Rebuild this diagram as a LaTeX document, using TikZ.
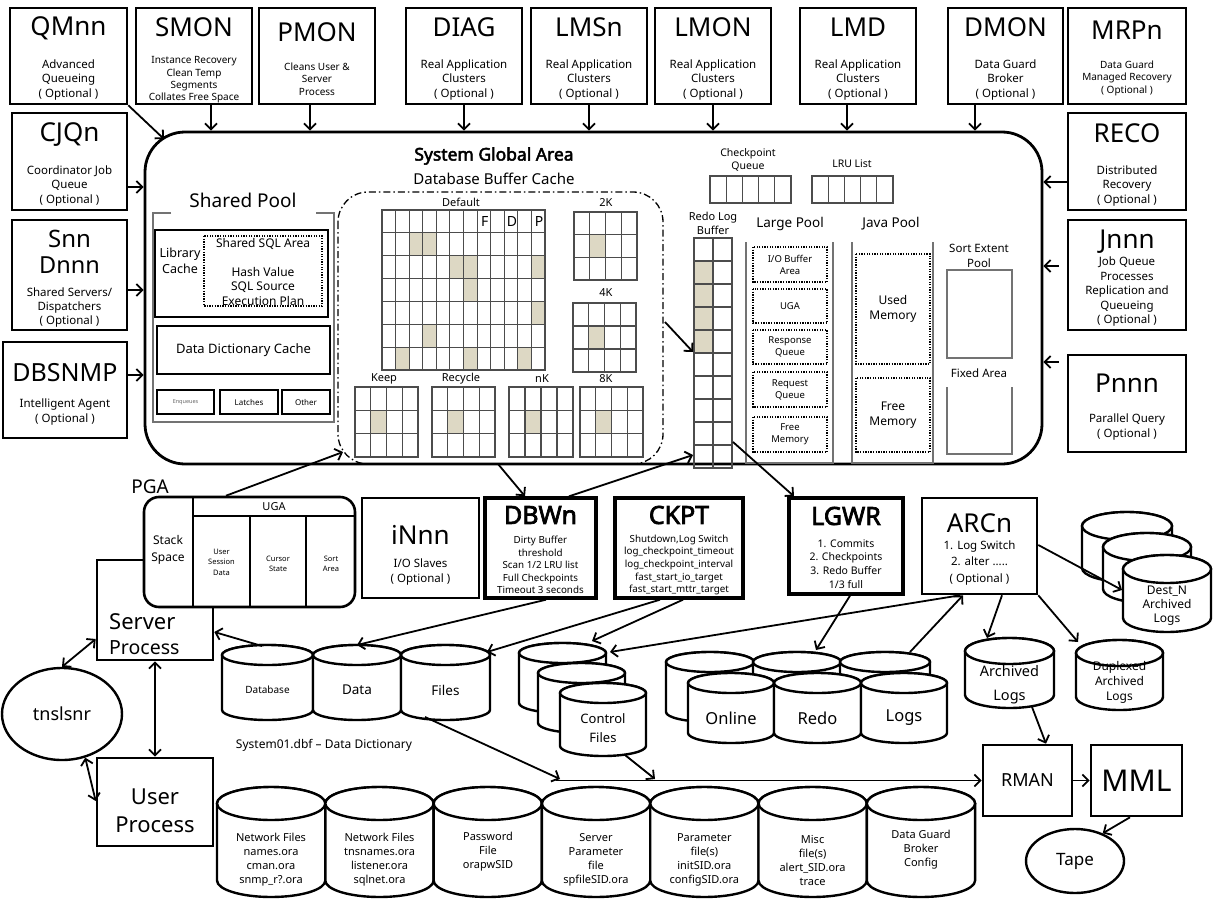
\documentclass[tikz,border=0pt]{standalone}
\usepackage{fontspec}
\setmainfont{Noto Sans}[BoldFont={Noto Sans},BoldFeatures={FakeBold=2.8}]
\usetikzlibrary{arrows.meta,shapes.geometric}
\definecolor{hitc}{RGB}{221,216,196}

\newcommand\pnode[6][pbox]{\node[#1,minimum width={#5-#3},minimum height={#6-#4}] (#2) at ({(#3+#5)/2},{-(#4+#6)/2}) {};}

\newcommand\hitcells[7]{%
 \pgfmathsetmacro\gw{(#3-#1)/#5}\pgfmathsetmacro\gh{(#4-#2)/#6}%
 \foreach \ci/\ri in {#7} {\fill[hitc] ({#1+\ci*\gw},{-(#2+\ri*\gh)}) rectangle ({#1+(\ci+1)*\gw},{-(#2+(\ri+1)*\gh)});}%
}
\newcommand\cgrid[6]{%
 \pgfmathsetmacro\gw{(#3-#1)/#5}\pgfmathsetmacro\gh{(#4-#2)/#6}%
 \pgfmathtruncatemacro\gc{#5-1}\pgfmathtruncatemacro\gr{#6-1}%
 \foreach \ci in {1,...,\gc} {\draw[gline] ({#1+\ci*\gw},-#2) -- ({#1+\ci*\gw},-#4);}%
 \ifnum#6>1 \foreach \ri in {1,...,\gr} {\draw[gline] (#1,{-(#2+\ri*\gh)}) -- (#3,{-(#2+\ri*\gh)});}\fi
 \draw[gline] (#1,-#2) rectangle (#3,-#4);
}
\newcommand\drum[6]{% name L T W H ry
 \pgfmathsetmacro\dR{#2+#4}\pgfmathsetmacro\drx{#4/2}\pgfmathsetmacro\dcx{#2+#4/2}%
 \pgfmathsetmacro\dyt{-(#3+#6)}\pgfmathsetmacro\dyb{-(#3+#5-#6)}%
 \draw[cylline] (#2,\dyt) -- (#2,\dyb) arc[start angle=180,end angle=360,x radius=\drx,y radius=#6] -- (\dR,\dyt) arc[start angle=0,end angle=180,x radius=\drx,y radius=#6] -- cycle;
 \draw[cylline] (\dcx,\dyt) ellipse[x radius=\drx,y radius=#6];
 \coordinate (#1) at (\dcx,{-(#3+#5/2)});
 \coordinate (#1-top) at (\dcx,-#3);
}

\begin{document}
\begin{tikzpicture}[x=1pt,y=1pt,
 every node/.style={inner sep=0pt,align=center},
 pbox/.style={draw,line width=2.6pt,fill=white},
 pboxb/.style={draw,line width=3.4pt,fill=white},
 arr/.style={line width=1.8pt,-{Straight Barb[length=6pt,width=12pt]}},
 darr/.style={line width=1.8pt,{Straight Barb[length=6pt,width=12pt]}-{Straight Barb[length=6pt,width=12pt]}},
 gline/.style={draw=black!70,line width=1.1pt},
 gframe/.style={draw=black!55,line width=1.2pt},
 ibox/.style={draw,line width=1.6pt},
 dotbox/.style={draw,line width=1.3pt,dash pattern=on 1.3pt off 1.3pt},
 bcline/.style={draw,line width=1.3pt,dash pattern=on 7pt off 3pt on 1.5pt off 3pt,rounded corners=30pt},
 cylline/.style={draw,line width=2.4pt,fill=white},
 tBig/.style={font=\fontsize{26}{28}\selectfont},
 tBold/.style={font=\bfseries\fontsize{25}{27}\selectfont},
 tSub/.style={font=\fontsize{11.5}{14.5}\selectfont},
 tSm/.style={font=\fontsize{10}{12.4}\selectfont},
 tMid/.style={font=\fontsize{9.8}{12.6}\selectfont},
 tCyl/.style={font=\fontsize{11}{14}\selectfont}
]
\useasboundingbox (0,0) rectangle (1213,-899);
\fill[white] (0,0) rectangle (1213,-899);

% ---------------- SGA frame
\node[draw,line width=2.8pt,rounded corners=40pt,minimum width=897,minimum height=332] (sga) at (593.5,-298) {};
\coordinate (sgaNW) at (164,-139);

% ---------------- top row
\pnode{qmnn}{10}{8}{127}{104}
\pnode{smon}{136}{8}{252}{104}
\pnode{pmon}{259}{8}{375}{104}
\pnode{diag}{406}{8}{522}{104}
\pnode{lmsn}{531}{8}{647}{104}
\pnode{lmon}{655}{8}{771}{104}
\pnode{lmd}{800}{8}{916}{104}
\pnode{dmon}{948}{8}{1063}{104}
\pnode{mrpn}{1068}{8}{1186}{104}
\node[tBig] (qmnn-t) at (68.5,-28) {QMnn};
\node[tSub] (qmnn-s) at (68.5,-80) {Advanced\\Queueing\\( Optional )};
\node[tBig] (smon-t) at (194,-27) {SMON};
\node[tSm] (smon-s) at (194,-80) {Instance Recovery\\Clean Temp\\Segments\\Collates Free Space};
\node[tBig] (pmon-t) at (317,-32) {PMON};
\node[tSm] (pmon-s) at (317,-79) {Cleans User \&\\Server\\Process};
\node[tBig] (diag-t) at (464,-27) {DIAG};
\node[tSub] (diag-s) at (464,-80) {Real Application\\Clusters\\( Optional )};
\node[tBig] (lmsn-t) at (589,-27) {LMSn};
\node[tSub] (lmsn-s) at (589,-80) {Real Application\\Clusters\\( Optional )};
\node[tBig] (lmon-t) at (713,-27) {LMON};
\node[tSub] (lmon-s) at (713,-80) {Real Application\\Clusters\\( Optional )};
\node[tBig] (lmd-t) at (858,-27) {LMD};
\node[tSub] (lmd-s) at (858,-80) {Real Application\\Clusters\\( Optional )};
\node[tBig] (dmon-t) at (1005.5,-27) {DMON};
\node[tSub] (dmon-s) at (1005.5,-80) {Data Guard\\Broker\\( Optional )};
\node[tBig] (mrpn-t) at (1127,-30) {MRPn};
\node[tSm] (mrpn-s) at (1127,-78) {Data Guard\\Managed Recovery\\( Optional )};

\draw[arr] (qmnn.south east) -- (sgaNW);
\draw[arr] (smon.south -| 211,0) -- (sga.north -| 211,0);
\draw[arr] (pmon.south -| 310,0) -- (sga.north -| 310,0);
\draw[arr] (diag.south) -- (sga.north -| diag.south);
\draw[arr] (lmsn.south) -- (sga.north -| lmsn.south);
\draw[arr] (lmon.south) -- (sga.north -| lmon.south);
\draw[arr] (lmd.south -| 847,0) -- (sga.north -| 847,0);
\draw[arr] (dmon.south -| 975,0) -- (sga.north -| 975,0);

% ---------------- left column
\pnode{cjqn}{12}{113}{127}{210}
\pnode{snn}{12}{220}{127}{330}
\pnode{dbsnmp}{3}{342}{127}{438}
\node[tBig] (cjqn-t) at (69.5,-135) {CJQn};
\node[tSub] (cjqn-s) at (69.5,-186) {Coordinator Job\\Queue\\( Optional )};
\node[font=\fontsize{24}{26}\selectfont] (snn-t) at (69.5,-239) {Snn};
\node[font=\fontsize{23.5}{26}\selectfont] (snn-u) at (69.5,-265) {Dnnn};
\node[font=\fontsize{11.5}{14}\selectfont] (snn-s) at (69.5,-308) {Shared Servers/\\Dispatchers\\( Optional )};
\node[font=\fontsize{25}{27}\selectfont] (dbsnmp-t) at (65,-373) {DBSNMP};
\node[tSub] (dbsnmp-s) at (65,-412) {Intelligent Agent\\( Optional )};
\draw[arr] (cjqn.east |- 0,-187) -- (sga.west |- 0,-187);
\draw[arr] (snn.east |- 0,-290) -- (sga.west |- 0,-290);
\draw[arr] (dbsnmp.east |- 0,-375) -- (sga.west |- 0,-375);

% ---------------- right column
\pnode{reco}{1068}{113}{1186}{210}
\pnode{jnnn}{1068}{220}{1186}{330}
\pnode{pnnn}{1068}{355}{1186}{452}
\node[tBig] (reco-t) at (1127,-133) {RECO};
\node[tSub] (reco-s) at (1127,-186) {Distributed\\Recovery\\( Optional )};
\node[tBig] (jnnn-t) at (1127,-242) {Jnnn};
\node[tSub] (jnnn-s) at (1127,-292) {Job Queue\\Processes\\Replication and\\Queueing\\( Optional )};
\node[tBig] (pnnn-t) at (1127,-383) {Pnnn};
\node[tSub] (pnnn-s) at (1127,-427) {Parallel Query\\( Optional )};
\draw[arr] (reco.west |- 0,-182) -- (sga.east |- 0,-182);
\draw[arr,shorten <=8pt] (jnnn.west |- 0,-266) -- (sga.east |- 0,-266);
\draw[arr,shorten <=8pt] (pnnn.west |- 0,-362) -- (sga.east |- 0,-362);

% ---------------- SGA titles
\node[font=\bfseries\fontsize{17.5}{20}\selectfont] (sgat) at (494,-156) {System Global Area};
\node[font=\fontsize{15}{17}\selectfont] (dbbc) at (494,-179) {Database Buffer Cache};

% ---------------- Shared pool
\node[font=\fontsize{19}{21}\selectfont] (spt) at (243,-200) {Shared Pool};
\draw[gframe] (171,-213) -| (153,-422) -| (334,-213) -- (316,-213);
\draw[ibox] (155,-230) rectangle (328,-317);
\node[font=\fontsize{12.5}{15.5}\selectfont] (libc) at (180,-261) {Library\\Cache};
\draw[dotbox] (204,-236) rectangle (322,-306);
\node[font=\fontsize{12}{14.5}\selectfont] (ssql) at (263,-244) {Shared SQL Area};
\node[font=\fontsize{12}{14.5}\selectfont] (hashv) at (263,-286) {Hash Value\\SQL Source\\Execution Plan};
\draw[ibox] (157,-326) rectangle (330,-374);
\node[font=\fontsize{13}{15}\selectfont] (ddc) at (243.5,-350) {Data Dictionary Cache};
\draw[ibox] (157,-390) rectangle (214,-414);
\draw[ibox] (220,-390) rectangle (278,-414);
\draw[ibox] (282,-390) rectangle (330,-414);
\node[font=\fontsize{5.5}{6}\selectfont,text=black!60] (enq) at (185.5,-402) {Enqueues};
\node[font=\fontsize{8}{9}\selectfont] (latch) at (249,-402) {Latches};
\node[font=\fontsize{8}{9}\selectfont] (other) at (306,-402) {Other};

% ---------------- Buffer cache
\draw[bcline] (338,-192) rectangle (663,-464);
\hitcells{382}{210}{545}{370}{12}{7}{2/1,3/1,5/2,6/2,11/2,6/3,11/4,3/5,1/6,6/6,10/6}
\cgrid{382}{210}{545}{370}{12}{7}
\node[font=\fontsize{11}{12}\selectfont] (lbdef) at (461,-202) {Default};
\node[font=\fontsize{14}{15}\selectfont] (lbF) at (484.7,-221.5) {F};
\node[font=\fontsize{14}{15}\selectfont] (lbD) at (511.9,-221.5) {D};
\node[font=\fontsize{14}{15}\selectfont] (lbP) at (539,-221.5) {P};
\hitcells{574}{212}{637}{280}{4}{3}{1/1}
\cgrid{574}{212}{637}{280}{4}{3}
\node[font=\fontsize{11}{12}\selectfont] (lb2k) at (606,-203) {2K};
\hitcells{573}{303}{636}{372}{4}{3}{1/1}
\cgrid{573}{303}{636}{372}{4}{3}
\node[font=\fontsize{11}{12}\selectfont] (lb4k) at (606,-293) {4K};
\hitcells{355}{387}{418}{457}{4}{3}{1/1}
\cgrid{355}{387}{418}{457}{4}{3}
\node[font=\fontsize{11}{12}\selectfont] (lbkeep) at (384,-379) {Keep};
\hitcells{432}{387}{495}{457}{4}{3}{1/1}
\cgrid{432}{387}{495}{457}{4}{3}
\node[font=\fontsize{11}{12}\selectfont] (lbrec) at (461,-379) {Recycle};
\hitcells{509}{387}{573}{457}{4}{3}{1/1}
\cgrid{509}{387}{573}{457}{4}{3}
\node[font=\fontsize{11}{12}\selectfont] (lbnk) at (542,-379) {nK};
\hitcells{580}{387}{643}{457}{4}{3}{1/1}
\cgrid{580}{387}{643}{457}{4}{3}
\node[font=\fontsize{11}{12}\selectfont] (lb8k) at (606,-379) {8K};

% ---------------- queues
\node[font=\fontsize{10.5}{13.5}\selectfont] (ckq) at (748,-160) {Checkpoint\\Queue};
\cgrid{710}{176}{791}{203}{5}{1}
\node[font=\fontsize{10.5}{13.5}\selectfont] (lru) at (852,-164) {LRU List};
\cgrid{812}{176}{893}{203}{5}{1}

% ---------------- Redo log buffer
\node[font=\fontsize{11}{14}\selectfont] (rlb) at (713,-223) {Redo Log\\Buffer};
\hitcells{694}{238}{732}{468}{2}{10}{0/1,0/2,0/3,0/4}
\cgrid{694}{238}{732}{468}{2}{10}

% ---------------- Large pool
\node[font=\fontsize{13.5}{15}\selectfont] (lpt) at (790,-224) {Large Pool};
\draw[gframe] (746,-242) -- (746,-463) -- (833,-463) -- (833,-242);
\draw[dotbox] (753,-247) rectangle (827,-282);
\draw[dotbox] (753,-289) rectangle (827,-323);
\draw[dotbox] (753,-330) rectangle (827,-364);
\draw[dotbox] (753,-372) rectangle (827,-407);
\draw[dotbox] (753,-417) rectangle (827,-452);
\node[font=\fontsize{9.5}{12}\selectfont] (lp1) at (790,-264.5) {I/O Buffer\\Area};
\node[font=\fontsize{9.5}{12}\selectfont] (lp2) at (790,-306) {UGA};
\node[font=\fontsize{9.5}{12}\selectfont] (lp3) at (790,-347) {Response\\Queue};
\node[font=\fontsize{9.5}{12}\selectfont] (lp4) at (790,-389.5) {Request\\Queue};
\node[font=\fontsize{9.5}{12}\selectfont] (lp5) at (790,-434.5) {Free\\Memory};

% ---------------- Java pool
\node[font=\fontsize{13.5}{15}\selectfont] (jpt) at (891,-224) {Java Pool};
\draw[gframe] (852,-242) -- (852,-463) -- (933,-463) -- (933,-242);
\draw[dotbox] (856,-254) rectangle (930,-364);
\draw[dotbox] (856,-378) rectangle (930,-452);
\node[font=\fontsize{12}{14.5}\selectfont] (jp1) at (893,-309) {Used\\Memory};
\node[font=\fontsize{12}{14.5}\selectfont] (jp2) at (893,-415) {Free\\Memory};

% ---------------- Sort extent / fixed
\node[font=\fontsize{11.5}{14.5}\selectfont] (sep) at (979,-256) {Sort Extent\\Pool};
\draw[gframe] (947,-270) rectangle (1012,-358);
\node[font=\fontsize{11.5}{14}\selectfont] (fxa) at (979,-373) {Fixed Area};
\draw[gframe] (947,-387) -- (947,-454) -- (1012,-454) -- (1012,-387);

% ---------------- Server process and PGA
\pnode{srv}{97}{560}{213}{660}
\node[anchor=west,font=\fontsize{22}{24}\selectfont] (srv-a) at (109,-622) {Server};
\node[anchor=west,font=\fontsize{19.5}{22}\selectfont] (srv-b) at (109,-648) {Process};
\node[pbox,rounded corners=15pt,minimum width=211,minimum height=110] (pga) at (249.5,-552) {};
\node[font=\fontsize{19}{21}\selectfont] (pgat) at (150,-487) {PGA};
\draw[ibox] (193,-497) -- (193,-607);
\draw[ibox] (193,-516) -- (355,-516);
\draw[ibox] (250,-516) -- (250,-607);
\draw[ibox] (306,-516) -- (306,-607);
\node[font=\fontsize{12}{16.5}\selectfont] (stk) at (168,-550) {Stack\\Space};
\node[font=\fontsize{11}{12}\selectfont] (ugat) at (274,-507) {UGA};
\node[font=\fontsize{7.5}{10.5}\selectfont] (usd) at (221.5,-562) {User\\Session\\Data};
\node[font=\fontsize{7.5}{10.5}\selectfont] (cst) at (278,-564) {Cursor\\State};
\node[font=\fontsize{7.5}{10.5}\selectfont] (sar) at (331,-564) {Sort\\Area};

% ---------------- middle processes
\pnode{innn}{362}{498}{479}{598}
\pnode[pboxb]{dbwn}{485}{498}{596}{598}
\pnode[pboxb]{ckpt}{615}{498}{743}{598}
\pnode[pboxb]{lgwr}{789}{498}{903}{594}
\pnode{arcn}{922}{498}{1037}{594}
\node[tBig] (innn-t) at (420.5,-535) {iNnn};
\node[font=\fontsize{11.5}{15}\selectfont] (innn-s) at (420.5,-572) {I/O Slaves\\( Optional )};
\node[tBold] (dbwn-t) at (540.5,-515) {DBWn};
\node[tMid] (dbwn-s) at (540.5,-565) {Dirty Buffer\\threshold\\Scan 1/2 LRU list\\Full Checkpoints\\Timeout 3 seconds};
\node[tBold] (ckpt-t) at (679,-515) {CKPT};
\node[tMid] (ckpt-s) at (679,-565) {Shutdown,Log Switch\\log\_checkpoint\_timeout\\log\_checkpoint\_interval\\fast\_start\_io\_target\\fast\_start\_mttr\_target};
\node[tBold] (lgwr-t) at (846,-516) {LGWR};
\node[font=\fontsize{10.5}{13.7}\selectfont] (lgwr-s) at (846,-564) {1. Commits\\2. Checkpoints\\3. Redo Buffer\\1/3 full};
\node[tBig] (arcn-t) at (979.5,-523) {ARCn};
\node[font=\fontsize{11.5}{16.5}\selectfont] (arcn-s) at (979.5,-563) {1. Log Switch\\2. alter .....\\( Optional )};

% ---------------- SGA <-> processes
\coordinate (bcIn) at (343,-452);
\coordinate (bcOut) at (498,-464);
\coordinate (rlbA) at (693,-455);
\coordinate (bcR) at (665,-322);
\coordinate (rlbB) at (693,-352);
\coordinate (rlbC) at (733,-442);
\draw[arr] (pga.north -| 226,0) -- (bcIn);
\draw[arr] (bcOut) -- (dbwn.north -| 525,0);
\draw[arr] (dbwn.north -| 569,0) -- (rlbA);
\draw[arr] (bcR) -- (rlbB);
\draw[arr] (rlbC) -- (lgwr.north -| 794,0);

% ---------------- tnslsnr, user process
\node[draw,ellipse,line width=2.4pt,minimum width=120,minimum height=92,font=\fontsize{18}{20}\selectfont] (tns) at (62,-714) {tnslsnr};
\pnode{usr}{97}{758}{213}{846}
\node[font=\fontsize{22}{28}\selectfont] (usr-t) at (155,-811) {User\\Process};
\draw[darr] (srv.west |- 0,-639) -- (tns.north);
\draw[darr] (srv.south) -- (usr.north);
\draw[darr] (tns.-62) -- (usr.west |- 0,-801);

% ---------------- data files
\drum{dbase}{222}{645}{91}{75}{10}
\drum{data}{313}{645}{88}{75}{10}
\drum{files}{401}{645}{89}{75}{10}
\node[font=\fontsize{10}{12}\selectfont] (dbase-l) at (267.5,-690) {Database};
\node[font=\fontsize{13.5}{15}\selectfont] (data-l) at (357,-690) {Data};
\node[font=\fontsize{13.5}{15}\selectfont] (files-l) at (445.5,-690) {Files};
\node[font=\fontsize{12}{14}\selectfont] (sysdbf) at (324,-745) {System01.dbf -- Data Dictionary};

% ---------------- control files
\drum{ctl1}{519}{643}{87}{70}{10}
\drum{ctl2}{538}{663}{87}{70}{10}
\drum{ctl3}{560}{683}{86}{73}{10}
\node[font=\fontsize{13}{19}\selectfont] (ctl-l) at (603,-728) {Control\\Files};

% ---------------- online redo logs
\drum{rb1}{666}{652}{88}{70}{10}
\drum{rb2}{753}{652}{88}{70}{10}
\drum{rb3}{840}{652}{90}{70}{10}
\drum{rf1}{688}{673}{86}{70}{10}
\drum{rf2}{774}{673}{87}{70}{10}
\drum{rf3}{861}{673}{86}{70}{10}
\node[font=\fontsize{16.5}{18}\selectfont] (rf1-l) at (731,-718) {Online};
\node[font=\fontsize{16.5}{18}\selectfont] (rf2-l) at (817.5,-718) {Redo};
\node[font=\fontsize{16.5}{18}\selectfont] (rf3-l) at (904,-718) {Logs};

% ---------------- archive destinations
\drum{dn1}{1082}{512}{90}{70}{14}
\drum{dn2}{1103}{533}{88}{70}{14}
\drum{dn3}{1123}{555}{88}{77}{14}
\node[font=\fontsize{12}{14}\selectfont] (dn-l) at (1167,-606) {Dest\_N\\Archived\\Logs};
\drum{arch}{965}{638}{89}{70}{13}
\node[font=\fontsize{14.5}{24}\selectfont] (arch-l) at (1009.5,-685) {Archived\\Logs};
\drum{dup}{1076}{640}{87}{70}{13}
\node[font=\fontsize{12}{15}\selectfont] (dup-l) at (1119.5,-682) {Duplexed\\Archived\\Logs};

% ---------------- RMAN, MML, tape
\pnode{rman}{983}{745}{1072}{816}
\pnode{mml}{1091}{745}{1182}{816}
\node[font=\fontsize{18}{20}\selectfont] (rman-t) at (1027.5,-780.5) {RMAN};
\node[font=\fontsize{30}{32}\selectfont] (mml-t) at (1136.5,-780.5) {MML};
\node[draw,ellipse,line width=2.4pt,minimum width=98,minimum height=64,font=\fontsize{17}{19}\selectfont] (tape) at (1075,-861) {Tape};

% ---------------- bottom config files
\drum{nf1}{217}{787}{108.3}{110}{16.5}
\drum{nf2}{325.3}{787}{108.3}{110}{16.5}
\drum{pw}{433.6}{787}{108.3}{110}{16.5}
\drum{sp}{541.9}{787}{108.3}{110}{16.5}
\drum{pf}{650.2}{787}{108.3}{110}{16.5}
\drum{misc}{758.5}{787}{108.3}{110}{16.5}
\drum{dg}{866.8}{787}{108.3}{110}{16.5}
\node[tCyl] (nf1-l) at (271,-860) {Network Files\\names.ora\\cman.ora\\snmp\_r?.ora};
\node[tCyl] (nf2-l) at (379.5,-860) {Network Files\\tnsnames.ora\\listener.ora\\sqlnet.ora};
\node[tCyl] (pw-l) at (488,-852) {Password\\File\\orapwSID};
\node[tCyl] (sp-l) at (596,-860) {Server\\Parameter\\file\\spfileSID.ora};
\node[tCyl] (pf-l) at (704.3,-860) {Parameter\\file(s)\\initSID.ora\\configSID.ora};
\node[tCyl] (misc-l) at (812.6,-860) {Misc\\file(s)\\alert\_SID.ora\\trace};
\node[tCyl] (dg-l) at (921,-850) {Data Guard\\Broker\\Config};

% ---------------- file connectors
\coordinate (dbOut) at (262,-646);
\coordinate (filesIn) at (487,-652);
\coordinate (ctlIn) at (592,-641);
\coordinate (ctlIn2) at (610,-652);
\coordinate (redoIn) at (816,-650);
\coordinate (logsOut) at (910,-652);
\coordinate (destIn) at (1122,-590);
\coordinate (archIn) at (987,-638);
\coordinate (dupIn) at (1078,-642);
\coordinate (archOut) at (1032,-707);
\coordinate (filesOut) at (425,-717);
\coordinate (busA) at (560,-779);
\coordinate (busB) at (556,-780.5);
\coordinate (ctlOut) at (625,-755);
\coordinate (busC) at (655,-779);
\draw[arr] (dbOut) -- (srv.east |- 0,-632);
\draw[arr] (dbwn.south -| 546,0) -- (data-top);
\draw[arr] (ckpt.south -| 660,0) -- (filesIn);
\draw[arr] (ckpt.south -| 683,0) -- (ctlIn);
\draw[arr] (arcn.south -| 960,0) -- (ctlIn2);
\draw[arr] (lgwr.south -| 850,0) -- (redoIn);
\draw[arr] (logsOut) -- (arcn.south -| 963,0);
\draw[arr] (arcn.east |- 0,-545) -- (destIn);
\draw[arr] (arcn.south -| 1002,0) -- (archIn);
\draw[arr] (arcn.south east) -- (dupIn);
\draw[arr] (archOut) -- (rman.north -| 1046,0);
\draw[arr] (filesOut) -- (busA);
\draw[arr] (busB) -- (rman.west);
\draw[arr] (ctlOut) -- (busC);
\draw[arr] (rman.east) -- (mml.west);
\draw[arr] (mml.south -| 1130,0) -- (tape.45);
\end{tikzpicture}
\end{document}
